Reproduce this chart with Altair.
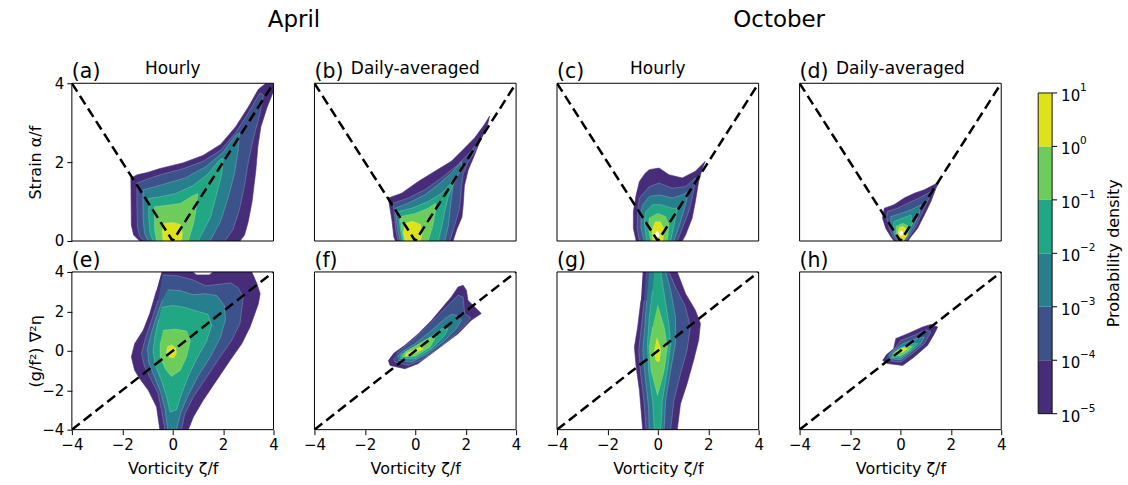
import altair as alt
import pandas as pd

FONT = "DejaVu Sans"
W, H = 202, 158
COL_GAP, ROW_GAP = 41, 31

BAND_COLORS = ["#472c7a", "#3b528b", "#277f8e", "#22a785", "#6ccd5a", "#dde318"]
PEAK_COLOR = "#ffffff"

CB_EXPONENTS = [-5, -4, -3, -2, -1, 0, 1]
CB_EXP_LABELS = ["−5", "−4", "−3", "−2", "−1", "0", "1"]
CB_BASE_LABEL = "10"
CB_TITLE = "Probability density"

PANEL_LABELS = ["(a)", "(b)", "(c)", "(d)", "(e)", "(f)", "(g)", "(h)"]
SUBTITLES = ["Hourly", "Daily-averaged", "Hourly", "Daily-averaged"]
MONTHS = ["April", "October"]
X_TICKS = [-4, -2, 0, 2, 4]
Y_TICKS_TOP = [0, 2, 4]
Y_TICKS_BOTTOM = [-4, -2, 0, 2, 4]
X_TITLE = "Vorticity ζ/f"
Y_TITLE_TOP = "Strain α/f"
Y_TITLE_BOTTOM = "(g/f²) ∇²η"

# reference lines
VEE_X = [-4, 0, 4]
VEE_Y = [4, 0, 4]
DIAG_X = [-4, 4]
DIAG_Y = [-4, 4]

# ---- contour outlines (x, y), outer level first ----
A1 = [(-1.31, 0), (-1.55, 0.15), (-1.64, 0.4), (-1.65, 1.0), (-1.66, 1.6), (-1.4, 1.68), (-1.0, 1.74),
      (-0.5, 1.84), (0.4, 1.98), (1.2, 2.17), (1.9, 2.45), (2.5, 2.9), (3.0, 3.4), (3.4, 3.85), (3.7, 4.0),
      (4.0, 4.0), (4.0, 3.8), (3.75, 3.4), (3.5, 2.9), (3.38, 2.4), (3.3, 1.8), (3.15, 1.0), (3.0, 0.5),
      (2.85, 0.15), (2.67, 0)]
A2 = [(-1.11, 0), (-1.3, 0.1), (-1.4, 0.35), (-1.42, 1.0), (-1.42, 1.47), (-1.0, 1.57), (-0.5, 1.68),
      (0.4, 1.83), (1.2, 2.02), (1.9, 2.3), (2.5, 2.75), (3.0, 3.25), (3.45, 3.75), (3.6, 3.7), (3.45, 3.2),
      (3.2, 2.6), (3.0, 2.0), (2.85, 1.4), (2.65, 0.8), (2.4, 0.3), (2.08, 0)]
A3 = [(-0.97, 0), (-1.12, 0.2), (-1.18, 0.6), (-1.18, 1.3), (-0.8, 1.36), (-0.3, 1.45), (0.5, 1.6),
      (1.3, 1.88), (2.0, 2.25), (2.45, 2.65), (2.65, 2.75), (2.6, 2.3), (2.45, 1.7), (2.2, 1.1), (1.9, 0.5),
      (1.48, 0)]
A4 = [(-0.78, 0), (-0.9, 0.2), (-0.95, 0.6), (-0.95, 1.08), (-0.5, 1.12), (0.1, 1.2), (0.8, 1.4),
      (1.4, 1.7), (1.85, 2.05), (2.0, 2.1), (1.95, 1.7), (1.75, 1.2), (1.5, 0.6), (1.01, 0)]
A5 = [(-0.64, 0), (-0.72, 0.3), (-0.72, 0.87), (-0.3, 0.9), (0.3, 0.95), (0.8, 1.15), (1.0, 1.2),
      (0.95, 0.9), (0.85, 0.5), (0.62, 0)]
A6 = [(-0.38, 0), (-0.42, 0.25), (-0.35, 0.45), (0.0, 0.47), (0.3, 0.42), (0.38, 0.2), (0.35, 0)]

B1 = [(-0.78, 0), (-0.85, 0.1), (-0.92, 0.5), (-1.07, 1.09), (-0.54, 1.21), (0.12, 1.51), (0.78, 1.77),
      (1.43, 2.02), (1.96, 2.36), (2.36, 2.62), (2.75, 2.96), (2.95, 3.17), (2.85, 2.9), (2.55, 2.5),
      (2.3, 2.1), (2.1, 1.8), (1.95, 1.4), (1.9, 0.9), (1.85, 0.6), (1.65, 0.3), (1.5, 0)]
B2 = [(-0.68, 0), (-0.78, 0.3), (-0.87, 0.96), (-0.28, 1.09), (0.38, 1.30), (1.04, 1.60), (1.70, 1.94),
      (2.22, 2.28), (2.49, 2.53), (2.4, 2.3), (2.1, 2.0), (1.9, 1.7), (1.83, 1.34), (1.76, 0.83),
      (1.57, 0.41), (1.37, 0)]
B3 = [(-0.6, 0), (-0.7, 0.3), (-0.8, 0.83), (-0.28, 0.96), (0.38, 1.17), (0.91, 1.43), (1.43, 1.72),
      (1.83, 2.02), (1.85, 1.85), (1.7, 1.68), (1.5, 1.4), (1.4, 0.9), (1.32, 0.4), (1.17, 0)]
B4 = [(-0.52, 0), (-0.6, 0.3), (-0.67, 0.75), (-0.14, 0.83), (0.51, 1.0), (1.04, 1.21), (1.43, 1.47),
      (1.57, 1.6), (1.45, 1.35), (1.3, 1.1), (1.17, 0.75), (1.05, 0.35), (0.91, 0)]
B5 = [(-0.45, 0), (-0.55, 0.3), (-0.6, 0.62), (0.0, 0.70), (0.51, 0.83), (0.8, 0.96), (0.8, 0.75),
      (0.68, 0.35), (0.51, 0)]
B6 = [(-0.4, 0), (-0.47, 0.2), (-0.4, 0.45), (-0.1, 0.5), (0.2, 0.42), (0.28, 0.2), (0.2, 0)]

C1 = [(-0.86, 0), (-0.97, 0.32), (-0.97, 0.75), (-0.86, 1.17), (-0.73, 1.51), (-0.5, 1.72), (-0.34, 1.81),
      (0.05, 1.85), (0.44, 1.68), (0.97, 1.60), (1.49, 1.77), (1.88, 2.02), (1.75, 1.8), (1.62, 1.51),
      (1.49, 1.0), (1.36, 0.58), (1.10, 0.15), (0.97, 0)]
C2 = [(-0.73, 0), (-0.82, 0.32), (-0.8, 0.75), (-0.73, 1.09), (-0.34, 1.38), (0.05, 1.47), (0.57, 1.34),
      (1.10, 1.38), (1.49, 1.60), (1.42, 1.26), (1.23, 0.75), (0.97, 0.32), (0.77, 0)]
C3 = [(-0.54, 0), (-0.67, 0.32), (-0.67, 0.75), (-0.6, 0.92), (-0.34, 1.13), (0.05, 1.17), (0.57, 1.09),
      (0.97, 1.17), (1.23, 1.26), (1.1, 0.92), (0.9, 0.49), (0.64, 0)]
C4 = [(-0.45, 0), (-0.54, 0.49), (-0.47, 0.75), (-0.21, 0.92), (0.12, 0.92), (0.57, 0.83), (0.77, 0.83),
      (0.7, 0.58), (0.51, 0)]
C5 = [(-0.28, 0), (-0.37, 0.32), (-0.34, 0.58), (-0.01, 0.70), (0.31, 0.62), (0.44, 0.41), (0.38, 0)]
C6 = [(-0.2, 0), (-0.22, 0.3), (-0.1, 0.49), (0.1, 0.49), (0.25, 0.3), (0.2, 0)]
C7 = [(-0.08, 0.1), (-0.1, 0.18), (-0.03, 0.25), (0.05, 0.2), (0.04, 0.1)]

D1 = [(-0.25, 0), (-0.38, 0.11), (-0.58, 0.32), (-0.71, 0.58), (-0.64, 0.83), (-0.25, 0.92), (0.15, 1.09),
      (0.55, 1.21), (0.95, 1.30), (1.35, 1.43), (1.55, 1.51), (1.41, 1.34), (1.21, 1.0), (0.95, 0.66),
      (0.68, 0.32), (0.42, 0.11), (0.3, 0)]
D2 = [(-0.15, 0), (-0.3, 0.11), (-0.44, 0.32), (-0.55, 0.6), (-0.51, 0.75), (-0.11, 0.83), (0.29, 0.96),
      (0.75, 1.09), (1.08, 1.21), (1.28, 1.30), (1.08, 1.0), (0.82, 0.66), (0.62, 0.37), (0.35, 0.11),
      (0.22, 0)]
D3 = [(-0.1, 0), (-0.25, 0.15), (-0.38, 0.45), (-0.38, 0.62), (0.02, 0.70), (0.42, 0.79), (0.82, 0.92),
      (0.75, 0.70), (0.55, 0.41), (0.29, 0.11), (0.15, 0)]
D4 = [(-0.05, 0), (-0.2, 0.15), (-0.28, 0.4), (-0.27, 0.49), (0.09, 0.58), (0.42, 0.66), (0.48, 0.45),
      (0.29, 0.2), (0.12, 0)]
D5 = [(-0.02, 0), (-0.15, 0.15), (-0.18, 0.37), (0.09, 0.45), (0.35, 0.37), (0.29, 0.15), (0.1, 0)]
D6 = [(-0.05, 0.02), (-0.11, 0.2), (-0.05, 0.35), (0.1, 0.37), (0.27, 0.3), (0.25, 0.12), (0.1, 0.0)]
D7 = [(0.0, 0.13), (-0.04, 0.2), (0.02, 0.27), (0.1, 0.24), (0.1, 0.15)]

E1 = [(-0.44, 4), (0.8, 4), (0.95, 3.85), (1.45, 3.85), (1.6, 4), (3.14, 4), (3.34, 3.41), (3.47, 2.9),
      (3.40, 2.39), (3.07, 1.21), (2.74, 0.36), (2.28, -0.48), (1.74, -1.50), (1.21, -2.51), (0.82, -3.36),
      (0.62, -4), (-0.51, -4), (-0.64, -2.85), (-0.97, -2.0), (-1.31, -1.41), (-1.51, -0.99), (-1.64, -0.31),
      (-1.51, 0.36), (-1.17, 1.04), (-0.91, 1.89), (-0.64, 3.07)]
E2 = [(-0.4, 3.85), (0.2, 3.8), (0.8, 3.6), (1.3, 3.3), (1.7, 3.35), (2.3, 3.45), (2.6, 3.2), (2.8, 2.7),
      (2.67, 1.38), (2.34, 0.53), (1.88, -0.31), (1.35, -1.33), (0.82, -2.34), (0.48, -3.19), (0.35, -4),
      (-0.31, -4), (-0.44, -3.02), (-0.58, -2.17), (-0.84, -1.50), (-1.11, -0.82), (-1.24, -0.14),
      (-1.07, 0.70), (-0.84, 1.55), (-0.58, 2.56)]
E3 = [(-0.2, 3.1), (0.3, 3.05), (0.8, 2.85), (1.3, 2.9), (1.75, 2.8), (2.05, 2.3), (2.1, 1.6), (1.9, 0.7),
      (1.5, -0.3), (1.0, -1.3), (0.6, -2.3), (0.3, -3.2), (0.15, -4), (-0.2, -4), (-0.3, -3.0), (-0.45, -2.2),
      (-0.7, -1.4), (-0.95, -0.6), (-1.0, 0.1), (-0.85, 0.9), (-0.6, 1.9), (-0.4, 2.6)]
E4 = [(-0.45, 2.2), (0.0, 2.3), (0.5, 2.2), (1.0, 2.0), (1.4, 1.85), (1.55, 1.3), (1.35, 0.5), (1.0, -0.3),
      (0.65, -1.2), (0.35, -2.2), (0.15, -3.0), (-0.1, -3.1), (-0.25, -2.3), (-0.45, -1.5), (-0.7, -0.7),
      (-0.78, 0.0), (-0.7, 0.8), (-0.55, 1.6)]
E5 = [(-0.38, 1.04), (0.1, 1.1), (0.55, 1.0), (0.7, 0.5), (0.55, -0.3), (0.3, -1.0), (-0.05, -1.3),
      (-0.3, -0.9), (-0.5, -0.3), (-0.5, 0.4)]
E6 = [(-0.25, -0.1), (-0.2, 0.2), (-0.05, 0.3), (0.12, 0.15), (0.15, -0.1), (0.05, -0.35), (-0.12, -0.35)]

F1 = [(-1.07, -0.48), (-1.0, -0.74), (-0.41, -0.91), (0.12, -0.65), (0.65, -0.14), (1.17, 0.36), (1.70, 0.87),
      (2.22, 1.55), (2.62, 1.89), (2.36, 2.22), (2.09, 2.56), (2.03, 3.07), (1.90, 3.32), (1.70, 3.24),
      (1.43, 2.73), (1.04, 2.14), (0.65, 1.55), (0.12, 0.87), (-0.41, 0.28), (-0.87, -0.14)]
F2 = [(-0.87, -0.40), (-0.8, -0.57), (-0.28, -0.74), (0.25, -0.48), (0.91, 0.11), (1.57, 0.79), (1.96, 1.29),
      (2.2, 1.68), (1.96, 1.89), (1.9, 2.73), (1.70, 2.82), (1.30, 2.31), (0.78, 1.63), (0.25, 0.96),
      (-0.28, 0.36), (-0.74, -0.14)]
F3 = [(-0.67, -0.48), (-0.14, -0.57), (0.51, -0.14), (1.17, 0.53), (1.63, 1.12), (1.83, 1.55), (1.63, 1.80),
      (1.45, 1.85), (1.17, 1.63), (0.65, 1.04), (-0.01, 0.36), (-0.54, -0.06), (-0.7, -0.3)]
F4 = [(-0.6, -0.4), (-0.01, -0.4), (0.65, 0.11), (1.17, 0.79), (1.30, 1.12), (1.04, 1.12), (0.51, 0.62),
      (-0.14, 0.11), (-0.6, -0.23)]
F5 = [(-0.54, -0.31), (-0.01, -0.28), (0.58, 0.19), (0.78, 0.62), (0.58, 0.67), (0.05, 0.28), (-0.41, -0.06)]
F6 = [(-0.41, -0.28), (-0.08, -0.18), (0.32, 0.11), (0.19, 0.19), (-0.14, -0.01), (-0.38, -0.14)]

G1 = [(-0.60, 4), (0.77, 4), (1.10, 2.90), (1.49, 2.06), (1.69, 1.38), (1.62, 0.53), (1.42, -0.48),
      (1.16, -1.67), (0.90, -2.68), (0.77, -4), (-0.60, -4), (-0.73, -2.0), (-0.86, -0.82), (-0.93, 0.19),
      (-0.80, 1.21), (-0.67, 2.56)]
G2 = [(-0.47, 4), (0.44, 4), (0.70, 3.24), (1.10, 2.22), (1.29, 1.21), (1.16, 0.03), (0.90, -1.16),
      (0.64, -2.51), (0.51, -4), (-0.47, -4), (-0.54, -2.68), (-0.67, -1.33), (-0.76, 0.03), (-0.67, 1.04),
      (-0.54, 2.56)]
G3 = [(-0.34, 4), (0.31, 4), (0.51, 3.07), (0.70, 1.72), (0.70, 0.36), (0.51, -0.99), (0.31, -2.51),
      (0.25, -4), (-0.34, -4), (-0.37, -2.85), (-0.50, -1.33), (-0.60, 0.03), (-0.54, 0.87), (-0.44, 2.56)]
G4 = [(-0.14, 4), (0.12, 4), (0.25, 2.9), (0.44, 1.38), (0.51, 0.36), (0.38, -0.99), (0.18, -2.51),
      (0.12, -4), (-0.14, -4), (-0.21, -2.51), (-0.37, -0.99), (-0.41, 0.36), (-0.34, 1.72), (-0.21, 3.07)]
G5 = [(-0.01, 2.31), (0.25, 1.21), (0.38, 0.19), (0.25, -0.99), (-0.01, -2.26), (-0.27, -0.99),
      (-0.34, 0.19), (-0.21, 1.21)]
G6 = [(-0.04, 0.67), (0.12, 0.03), (0.05, -0.57), (-0.08, -0.48), (-0.14, 0.03)]

H1 = [(-0.71, -0.48), (-0.51, -0.65), (0.09, -0.74), (0.55, -0.31), (1.08, 0.28), (1.35, 0.87), (1.48, 1.21),
      (1.21, 1.34), (0.88, 1.21), (0.29, 0.87), (-0.18, 0.62), (-0.27, 0.11), (-0.58, -0.23)]
H2 = [(-0.58, -0.48), (0.02, -0.57), (0.48, -0.14), (0.95, 0.36), (1.21, 0.96), (1.01, 1.07), (0.55, 0.79),
      (0.02, 0.53), (-0.18, 0.19), (-0.51, -0.28)]
H3 = [(-0.48, -0.4), (0.02, -0.45), (0.42, -0.06), (0.82, 0.36), (0.95, 0.70), (0.62, 0.62), (0.09, 0.36),
      (-0.25, 0.03), (-0.44, -0.23)]
H4 = [(-0.38, -0.35), (0.02, -0.35), (0.42, 0.03), (0.68, 0.36), (0.42, 0.36), (0.02, 0.16), (-0.31, -0.14)]
H5 = [(-0.31, -0.28), (0.02, -0.25), (0.35, 0.03), (0.48, 0.23), (0.22, 0.23), (-0.11, 0.03), (-0.27, -0.14)]
H6 = [(-0.18, -0.18), (0.09, -0.06), (0.29, 0.11), (0.09, 0.14), (-0.14, -0.01)]

PANELS = [
    [A1, A2, A3, A4, A5, A6],
    [B1, B2, B3, B4, B5, B6],
    [C1, C2, C3, C4, C5, C6, C7],
    [D1, D2, D3, D4, D5, D6, D7],
    [E1, E2, E3, E4, E5, E6],
    [F1, F2, F3, F4, F5, F6],
    [G1, G2, G3, G4, G5, G6],
    [H1, H2, H3, H4, H5, H6],
]

# colorbar geometry inside panel (d) coordinates
CB_X0 = W + 37
CB_W = 14
CB_TOP, CB_BOTTOM = 9.7, 331.0


def poly_frame(polys):
    rows = []
    for lev, poly in enumerate(polys):
        for i, (x, y) in enumerate(poly):
            rows.append({"level": lev, "i": i, "x": x, "y": y})
    return pd.DataFrame(rows)


def text_layer(txt, x, y, size, align="left", baseline="alphabetic"):
    return alt.Chart(pd.DataFrame({"t": [txt]})).mark_text(
        align=align, baseline=baseline, fontSize=size, font=FONT, color="black"
    ).encode(x=alt.value(x), y=alt.value(y), text="t:N")


def colorbar_layers():
    lows = [10.0 ** e for e in CB_EXPONENTS[:-1]]
    highs = [10.0 ** e for e in CB_EXPONENTS[1:]]
    cb_df = pd.DataFrame({"lo": lows, "hi": highs, "c": BAND_COLORS})
    sc = alt.Scale(type="log", domain=[10.0 ** CB_EXPONENTS[0], 10.0 ** CB_EXPONENTS[-1]],
                   range=[CB_BOTTOM, CB_TOP], nice=False)
    bands = alt.Chart(cb_df).mark_rect().encode(
        x=alt.value(CB_X0), x2=alt.value(CB_X0 + CB_W),
        y=alt.Y("lo:Q", scale=sc, axis=None), y2="hi:Q",
        color=alt.Color("c:N", scale=None, legend=None))
    border_df = pd.DataFrame({"lo": [lows[0]], "hi": [highs[-1]]})
    border = alt.Chart(border_df).mark_rect(fillOpacity=0, stroke="black", strokeWidth=0.9).encode(
        x=alt.value(CB_X0), x2=alt.value(CB_X0 + CB_W),
        y=alt.Y("lo:Q", scale=sc, axis=None), y2="hi:Q")
    tick_df = pd.DataFrame({"v": [10.0 ** e for e in CB_EXPONENTS],
                            "base": [CB_BASE_LABEL] * len(CB_EXPONENTS),
                            "e": CB_EXP_LABELS})
    ticks = alt.Chart(tick_df).mark_rule(color="black", strokeWidth=1).encode(
        x=alt.value(CB_X0 + CB_W), x2=alt.value(CB_X0 + CB_W + 5),
        y=alt.Y("v:Q", scale=sc, axis=None))
    base_lab = alt.Chart(tick_df).mark_text(align="left", baseline="middle", fontSize=15, font=FONT,
                                            color="black", dy=3).encode(
        x=alt.value(CB_X0 + CB_W + 9), y=alt.Y("v:Q", scale=sc, axis=None), text="base:N")
    exp_lab = alt.Chart(tick_df).mark_text(align="left", baseline="middle", fontSize=10.5, font=FONT,
                                           color="black", dy=-5).encode(
        x=alt.value(CB_X0 + CB_W + 9 + 19), y=alt.Y("v:Q", scale=sc, axis=None), text="e:N")
    title_df = pd.DataFrame({"v": [10.0 ** -2], "t": [CB_TITLE]})
    title = alt.Chart(title_df).mark_text(angle=270, align="center", baseline="middle", fontSize=16,
                                          font=FONT, color="black").encode(
        x=alt.value(CB_X0 + 76), y=alt.Y("v:Q", scale=sc, axis=None), text="t:N")
    return [bands, border, ticks, base_lab, exp_lab, title]


def make_panel(idx):
    bottom = idx >= 4
    first = idx % 4 == 0
    xs = alt.Scale(domain=[-4, 4], nice=False, zero=False)
    ys = alt.Scale(domain=[-4, 4] if bottom else [0, 4], nice=False, zero=False)
    xax = alt.Axis(values=X_TICKS, title=X_TITLE, titlePadding=8) if bottom else None
    if first:
        yax = alt.Axis(values=Y_TICKS_BOTTOM if bottom else Y_TICKS_TOP,
                       title=Y_TITLE_BOTTOM if bottom else Y_TITLE_TOP,
                       titleX=-28, titleBaseline="bottom")
    else:
        yax = None
    X = alt.X("x:Q", scale=xs, axis=xax)
    Y = alt.Y("y:Q", scale=ys, axis=yax)

    polys = PANELS[idx]
    base = alt.Chart(poly_frame(polys))
    layers = []
    for lev in range(len(polys)):
        color = BAND_COLORS[lev] if lev < len(BAND_COLORS) else PEAK_COLOR
        if lev == 0:
            mk = base.mark_line(fill=color, stroke=color, strokeWidth=0.6, clip=True)
        else:
            mk = base.mark_line(fill=color, stroke="#ffffff", strokeOpacity=0.35, strokeWidth=0.6, clip=True)
        layers.append(
            mk.transform_filter(alt.datum.level == lev).encode(x=X, y=Y, order="i:Q")
        )

    rx, ry = (DIAG_X, DIAG_Y) if bottom else (VEE_X, VEE_Y)
    ref = pd.DataFrame({"x": rx, "y": ry, "i": list(range(len(rx)))})
    layers.append(
        alt.Chart(ref).mark_line(color="black", strokeWidth=2.5, strokeDash=[10, 5], clip=True)
        .encode(x=X, y=Y, order="i:Q")
    )

    frame = alt.Chart(pd.DataFrame({"k": [0]})).mark_rect(
        fillOpacity=0, stroke="black", strokeWidth=1).encode(
        x=alt.value(0), x2=alt.value(W), y=alt.value(0), y2=alt.value(H))
    layers.append(frame)

    layers.append(text_layer(PANEL_LABELS[idx], 0, -5, 20.5))
    if not bottom:
        layers.append(text_layer(SUBTITLES[idx], W / 2, -9, 17, align="center"))
        if idx in (0, 2):
            layers.append(text_layer(MONTHS[idx // 2], W + COL_GAP / 2, -56, 23, align="center"))

    if idx == 3:
        layers += colorbar_layers()
        return alt.layer(*layers).resolve_scale(y="independent").properties(width=W, height=H)
    return alt.layer(*layers).properties(width=W, height=H)


chart = alt.concat(
    *[make_panel(i) for i in range(8)],
    columns=4,
    spacing={"column": COL_GAP, "row": ROW_GAP},
    bounds="flush",
).properties(
    padding={"left": 27, "top": 8, "right": 5, "bottom": 5},
    background="white",
).configure(font=FONT).configure_view(stroke="transparent").configure_axis(
    labelFont=FONT, labelFontSize=15, labelColor="black",
    tickColor="black", tickSize=5, tickWidth=1,
    domain=False, grid=False, labelFlush=False, labelOverlap=False, labelPadding=3,
    titleFont=FONT, titleFontSize=16, titleFontWeight="normal", titleColor="black",
)

chart.save("out.html", embed_options={"renderer": "svg", "actions": False})
